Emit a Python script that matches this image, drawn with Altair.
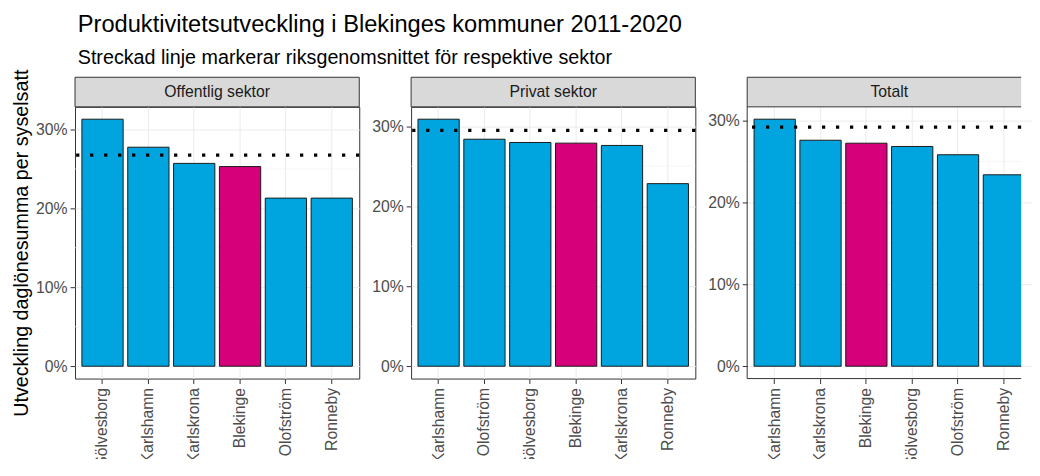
import altair as alt
import pandas as pd

# ---- data (percent) ----
sectors = ["Offentlig sektor", "Privat sektor", "Totalt"]

off_kommuner = ["Sölvesborg", "Karlshamn", "Karlskrona", "Blekinge", "Olofström", "Ronneby"]
off_values = [31.3, 27.75, 25.7, 25.3, 21.3, 21.3]

priv_kommuner = ["Karlshamn", "Olofström", "Sölvesborg", "Blekinge", "Karlskrona", "Ronneby"]
priv_values = [30.86, 28.36, 27.95, 27.87, 27.58, 22.81]

tot_kommuner = ["Karlshamn", "Karlskrona", "Blekinge", "Sölvesborg", "Olofström", "Ronneby"]
tot_values = [30.16, 27.59, 27.23, 26.83, 25.82, 23.37]

riks_snitt = [26.75, 29.47, 29.2]

major_ticks = [0, 10, 20, 30]
minor_ticks = [5, 15, 25]

title_text = "Produktivitetsutveckling i Blekinges kommuner 2011-2020"
subtitle_text = "Streckad linje markerar riksgenomsnittet för respektive sektor"
y_title = "Utveckling daglönesumma per syselsatt"

# ---- style ----
BLUE = "#00A5E0"
MAGENTA = "#D6007A"
FONT = "Liberation Sans"
BORDER = "#333333"
W = 288.4      # full panel width (as in the original figure)
W_CUT = 278    # last panel is cut by the right edge of the picture
H = 275.7
STRIP = 30


def make_panel(name, kommuner, values, avg, show_title, cut=False):
    df = pd.DataFrame({"kommun": kommuner, "varde": [v / 100 for v in values]})
    vmax = max(values) / 100
    yscale = alt.Scale(domain=[-0.05 * vmax, vmax * 1.05], nice=False, zero=False)
    xscale = alt.Scale(domain=kommuner, paddingInner=0.1, paddingOuter=0.15, range=[0, W])
    view_w = W_CUT if cut else W

    def yaxis():
        return alt.Axis(
            title=y_title if show_title else "",
            values=[t / 100 for t in major_ticks],
            format=".0%",
            grid=True,
            titlePadding=4,
        )

    minor = alt.Chart(pd.DataFrame({"m": [m / 100 for m in minor_ticks]})).mark_rule(
        color="#F2F2F2", strokeWidth=0.7
    ).encode(y=alt.Y("m:Q", scale=yscale, axis=yaxis()))

    bars = alt.Chart(df).mark_bar(stroke="#1A1A1A", strokeWidth=1, clip=cut).encode(
        x=alt.X(
            "kommun:N",
            scale=xscale,
            sort=kommuner,
            axis=alt.Axis(title=None, labelAngle=-90, labelPadding=4, grid=True),
        ),
        y=alt.Y("varde:Q", scale=yscale, axis=yaxis()),
        color=alt.condition(
            alt.datum.kommun == "Blekinge", alt.value(MAGENTA), alt.value(BLUE)
        ),
    )

    avg_rule = alt.Chart(pd.DataFrame({"avg": [avg / 100]})).mark_rule(
        color="black", strokeWidth=3.3, strokeDash=[3.3, 10.9], strokeCap="butt"
    ).encode(y=alt.Y("avg:Q", scale=yscale, axis=yaxis()))

    strip_df = pd.DataFrame({"sektor": [name]})
    strip_text = alt.Chart(strip_df).mark_text(
        font=FONT, fontSize=16, color="#1A1A1A", baseline="middle", align="center"
    ).encode(text="sektor:N", x=alt.value(W / 2), y=alt.value(-STRIP / 2))

    if not cut:
        strip_rect = alt.Chart(strip_df).mark_rect(
            fill="#D9D9D9", stroke=BORDER, strokeWidth=1
        ).encode(x=alt.value(0), x2=alt.value(W), y=alt.value(-STRIP), y2=alt.value(0))
        return alt.layer(minor, bars, avg_rule, strip_rect, strip_text).properties(
            width=view_w, height=H
        )

    strip_rect = alt.Chart(strip_df).mark_rect(fill="#D9D9D9").encode(
        x=alt.value(0), x2=alt.value(view_w), y=alt.value(-STRIP), y2=alt.value(0)
    )
    edge = alt.Chart(strip_df)
    left = edge.mark_rule(color=BORDER, strokeWidth=1).encode(
        x=alt.value(0), y=alt.value(-STRIP), y2=alt.value(H)
    )
    top = edge.mark_rule(color=BORDER, strokeWidth=1).encode(
        x=alt.value(0), x2=alt.value(view_w), y=alt.value(-STRIP)
    )
    mid = edge.mark_rule(color=BORDER, strokeWidth=1).encode(
        x=alt.value(0), x2=alt.value(view_w), y=alt.value(0)
    )
    bottom = edge.mark_rule(color=BORDER, strokeWidth=1).encode(
        x=alt.value(0), x2=alt.value(view_w), y=alt.value(H)
    )
    return alt.layer(
        minor, bars, avg_rule, strip_rect, strip_text, left, top, mid, bottom
    ).properties(width=view_w, height=H, view=alt.ViewBackground(stroke="transparent"))


p1 = make_panel(sectors[0], off_kommuner, off_values, riks_snitt[0], True)
p2 = make_panel(sectors[1], priv_kommuner, priv_values, riks_snitt[1], False)
p3 = make_panel(sectors[2], tot_kommuner, tot_values, riks_snitt[2], False, cut=True)

chart = (
    alt.hconcat(p1, p2, p3, spacing=9)
    .resolve_scale(x="independent", y="independent")
    .properties(
        title=alt.TitleParams(
            text=title_text,
            subtitle=subtitle_text,
            anchor="start",
            font=FONT,
            subtitleFont=FONT,
            fontSize=24,
            subtitleFontSize=20,
            fontWeight="normal",
            color="black",
            subtitleColor="black",
            subtitlePadding=11,
            offset=1,
            dx=67.3,
        ),
        padding={"left": 3, "top": 2, "right": 0, "bottom": -12},
    )
    .configure_view(stroke=BORDER, strokeWidth=1)
    .configure_axis(
        labelFont=FONT,
        labelFontSize=16,
        labelColor="#4D4D4D",
        tickColor=BORDER,
        tickSize=5,
        tickWidth=1,
        gridColor="#EBEBEB",
        gridWidth=1,
        domain=False,
        labelPadding=3,
        titleFont=FONT,
        titleFontSize=20,
        titleFontWeight="normal",
        titleColor="black",
    )
)

chart.save("out.html", embed_options={"renderer": "svg", "actions": False})
